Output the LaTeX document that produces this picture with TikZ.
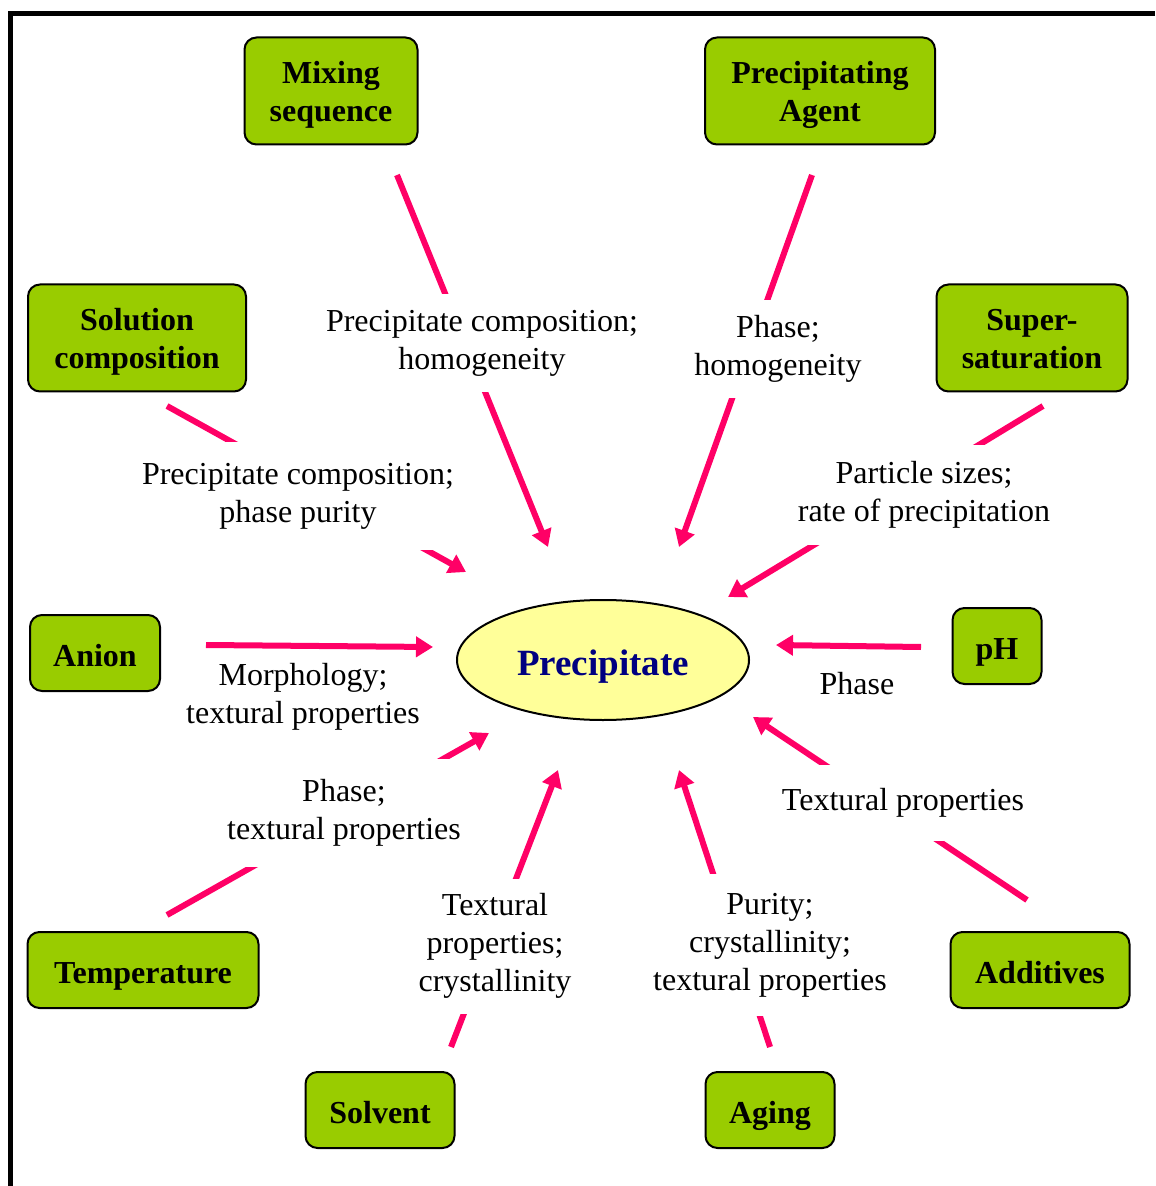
\documentclass[tikz,border=0pt]{standalone}
\usepackage{fontspec}
\setmainfont{Liberation Serif}
\usepackage{tikz}
\usetikzlibrary{arrows.meta,shapes.geometric}
\definecolor{boxc}{HTML}{99CC00}
\definecolor{ovalc}{HTML}{FFFF99}
\definecolor{arrowc}{HTML}{FF0066}
\definecolor{titlec}{HTML}{000080}
\tikzset{
  factor/.style={draw=black,line width=1pt,fill=boxc,rounded corners=6pt,align=center,
    inner sep=0pt,font=\fontsize{16}{19}\selectfont\bfseries},
  oneline/.style={factor,minimum height=38pt,text height=15pt,text depth=2pt},
  twoline/.style={factor,minimum height=53.5pt,text height=33.6pt,text depth=3.5pt},
  effect/.style={fill=white,inner xsep=2pt,inner ysep=0pt,align=center,
    font=\fontsize{16}{19}\selectfont},
  link/.style={draw=arrowc,line width=3pt,-{Triangle[length=8.5pt,width=10pt]}},
}

\begin{document}
\begin{tikzpicture}[x=0.5pt,y=-0.5pt]
  \useasboundingbox (0,0) rectangle (1155,1186);
  \draw[line width=2.5pt] (10.5,1186) -- (10.5,13.5) -- (1155,13.5);

  % centre
  \node[ellipse,draw=black,line width=1pt,fill=ovalc,minimum width=146pt,minimum height=60pt,
    inner sep=0pt,text=titlec,text height=15.2pt,text depth=0pt,
    font=\fontsize{18.5}{20}\selectfont\bfseries] (prec) at (603,660) {Precipitate};

  % factors
  \node[twoline,minimum width=86.5pt] (mix) at (331,91) {Mixing\\sequence};
  \node[twoline,minimum width=115pt] (agent) at (820,91) {Precipitating\\Agent};
  \node[twoline,minimum width=109pt] (solcomp) at (137,338) {Solution\\composition};
  \node[twoline,minimum width=95.5pt] (supsat) at (1032,338) {Super-\\saturation};
  \node[oneline,minimum width=65pt] (anion) at (95,653) {Anion};
  \node[oneline,minimum width=44.5pt] (ph) at (997,646) {pH};
  \node[oneline,minimum width=115.5pt] (temp) at (143,970) {Temperature};
  \node[oneline,minimum width=89.5pt] (additives) at (1040,970) {Additives};
  \node[oneline,minimum width=74.5pt] (solvent) at (380,1110) {Solvent};
  \node[oneline,minimum width=64.5pt] (aging) at (770,1110) {Aging};

  % connectors
  \foreach \n/\ax/\ay/\bx/\by in {mix/397/175/548/547, agent/812/175/679/547,
      solcomp/167/406/466/572, supsat/1043/406/728/597, anion/206/645/433/647,
      ph/921/647/776/645, temp/167/915/489/733, additives/1027/900/753/717,
      solvent/451/1047/558/770, aging/770/1047/679/770} {
    \coordinate (\n A) at (\ax,\ay);
    \coordinate (\n B) at (\bx,\by);
    \draw[link] (\n A) -- (\n B);
  }

  % effects
  \node[effect,minimum height=49pt] (mixlab) at (482,343) {Precipitate composition;\\homogeneity};
  \node[effect,minimum height=49pt] (agentlab) at (778,349) {Phase;\\homogeneity};
  \node[effect,minimum height=53.5pt] (sollab) at (298,496) {Precipitate composition;\\phase purity};
  \node[effect,minimum height=49.5pt] (suplab) at (924,495) {Particle sizes;\\rate of precipitation};
  \node[effect] (anionlab) at (303,697) {Morphology;\\textural properties};
  \node[effect] (phlab) at (857,684) {Phase};
  \node[effect,minimum height=54pt] (templab) at (344,813) {Phase;\\textural properties};
  \node[effect,minimum height=38pt] (addlab) at (903,803) {Textural properties};
  \node[effect,minimum height=67.5pt] (solvlab) at (495,946) {Textural\\properties;\\crystallinity};
  \node[effect,minimum height=71pt] (aginglab) at (770,945) {Purity;\\crystallinity;\\textural properties};
\end{tikzpicture}
\end{document}
